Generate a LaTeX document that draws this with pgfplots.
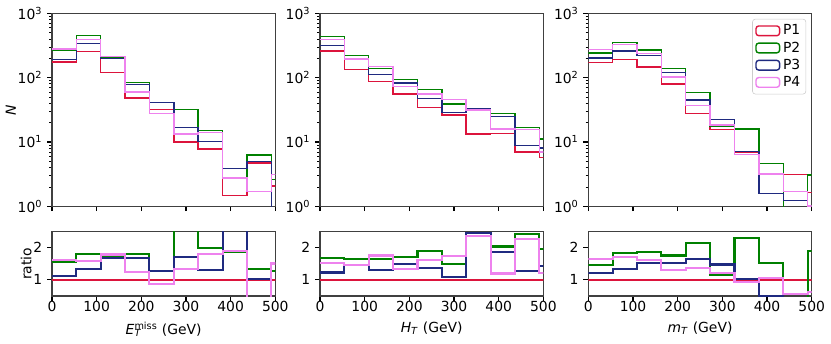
\documentclass[border=0pt]{standalone}
\usepackage{fontspec}
\setmainfont{DejaVu Sans}
\usepackage{pgfplots}
\usepackage{pgfplotstable}
\pgfplotsset{compat=1.18}

\definecolor{cP1}{HTML}{DC143C}
\definecolor{cP2}{HTML}{008000}
\definecolor{cP3}{HTML}{1F2A80}
\definecolor{cP4}{HTML}{EE82EE}

% bin edges: 600/11 GeV wide, last row repeats the last bin
\pgfplotstableread{
x       p1    p2    p3    p4
0       175   266   193   279
54.545  253   449   342   395
109.091 121   205   200   214
163.636 48    84.6  79    60
218.182 32.2  41.4  41.4  27.9
272.727 10    32.2  16.7  13.3
327.273 7.8   15.2  10.1  14.1
381.818 1.48  2.75  3.84  2.75
436.364 4.71  6.27  4.94  1.69
490.909 2.07  2.63  0.01  3.14
545.455 2.07  2.63  0.01  3.14
}\topA
\pgfplotstableread{
x       p1    p2    p3    p4
0       259   433   318   395
54.545  135   222   195   195
109.091 86.5  138   111   148
163.636 55.7  93    82.6  73.3
218.182 34.1  65    47    55.7
272.727 26.2  38.9  28.5  45.4
327.273 13.3  32.6  32.9  31.4
381.818 13.6  27.5  25.1  15.9
436.364 6.98  16.7  8.75  15.5
490.909 5.7   11.1  8.1   7.0
545.455 5.7   11.1  8.1   7.0
}\topB
\pgfplotstableread{
x       p1    p2    p3    p4
0       171   242   202   276
54.545  193   349   259   325
109.091 146   269   222   236
163.636 79.6  138   119   103
218.182 27.5  59.2  44.9  37.2
272.727 15.5  17.5  22.2  18.4
327.273 6.98  15.9  7.16  6.34
381.818 3.1   4.66  1.57  3.2
436.364 3.1   0.01  1.24  1.69
490.909 1.63  3.06  0.01  1.01
545.455 1.63  3.06  0.01  1.01
}\topC

\pgfplotstableread{
x       p1  p2    p3    p4
0       1   1.55  1.125 1.61
54.545  1   1.81  1.35  1.58
109.091 1   1.71  1.67  1.79
163.636 1   1.80  1.67  1.25
218.182 1   1.29  1.27  0.875
272.727 1   3.2   1.71  1.33
327.273 1   1.98  1.30  1.80
381.818 1   1.875 2.6   1.90
436.364 1   1.34  1.03  0.36
490.909 1   1.27  0     1.51
545.455 1   1.27  0     1.51
}\ratA
\pgfplotstableread{
x       p1  p2    p3    p4
0       1   1.69  1.23  1.53
54.545  1   1.66  1.46  1.46
109.091 1   1.64  1.30  1.76
163.636 1   1.72  1.49  1.34
218.182 1   1.90  1.36  1.63
272.727 1   1.50  1.10  1.73
327.273 1   2.45  2.45  2.38
381.818 1   2.04  1.86  1.20
436.364 1   2.44  1.27  2.26
490.909 1   1.95  1.43  1.22
545.455 1   1.95  1.43  1.22
}\ratB
\pgfplotstableread{
x       p1  p2    p3    p4
0       1   1.46  1.22  1.64
54.545  1   1.84  1.35  1.71
109.091 1   1.875 1.53  1.61
163.636 1   1.76  1.53  1.30
218.182 1   2.14  1.64  1.36
272.727 1   1.15  1.48  1.21
327.273 1   2.29  1.02  0.94
381.818 1   1.52  0.5   1.05
436.364 1   0     0.4   0.56
490.909 1   1.89  0     0.62
545.455 1   1.89  0     0.62
}\ratC

\pgfplotsset{
  every axis/.append style={
    scale only axis, width=160.8pt,
    xmin=0, xmax=500, xtick={0,100,...,500},
    tick align=outside, xtick pos=bottom, ytick pos=left,
    axis line style={line width=0.8pt, black!75},
    major tick length=3.5pt, minor tick length=2pt,
    major tick style={line width=0.8pt, black},
    minor tick style={line width=0.6pt, black},
    tick label style={font=\fontsize{10}{12}\selectfont},
    xticklabel style={yshift=3pt},
    label style={font=\fontsize{10}{12}\selectfont},
    ylabel shift=-5.5pt,
    /pgf/number format/assume math mode=true,
  },
}

\newcommand{\tophists}[1]{%
  \addplot[const plot, cP1, line width=1pt] table[x=x,y=p1] {#1};
  \addplot[const plot, cP2, line width=1pt] table[x=x,y=p2] {#1};
  \addplot[const plot, cP3, line width=1pt] table[x=x,y=p3] {#1};
  \addplot[const plot, cP4, line width=1pt] table[x=x,y=p4] {#1};
}
\newcommand{\rathists}[1]{%
  \addplot[const plot, cP1, line width=1.5pt] table[x=x,y=p1] {#1};
  \addplot[const plot, cP2, line width=1.5pt] table[x=x,y=p2] {#1};
  \addplot[const plot, cP3, line width=1.5pt] table[x=x,y=p3] {#1};
  \addplot[const plot, cP4, line width=1.5pt] table[x=x,y=p4] {#1};
}

\begin{document}
\begin{tikzpicture}
\useasboundingbox (0,0) rectangle (598.32pt,246.96pt);

% E_T^miss
\begin{semilogyaxis}[height=138.96pt, ymin=1, ymax=1000,
    ytick={1,10,100,1000},
    yticklabels={10\textsuperscript{0},10\textsuperscript{1},10\textsuperscript{2},10\textsuperscript{3}},
    minor ytick={2,3,4,5,6,7,8,9,20,30,40,50,60,70,80,90,200,300,400,500,600,700,800,900},
    xticklabels={},
    at={(37.44pt,98.4pt)}, anchor=south west, ylabel={\textit{N}}]
\tophists{\topA}
\end{semilogyaxis}
\begin{axis}[height=46.3pt, ymin=0.5, ymax=2.5, ytick={1,2},
  at={(37.44pt,33.84pt)}, anchor=south west, ylabel={ratio},
  xlabel={\textit{E}\rlap{\textsubscript{\textit{T}}}\textsuperscript{miss} (GeV)}]
\rathists{\ratA}
\end{axis}

% H_T
\begin{semilogyaxis}[height=138.96pt, ymin=1, ymax=1000,
    ytick={1,10,100,1000},
    yticklabels={10\textsuperscript{0},10\textsuperscript{1},10\textsuperscript{2},10\textsuperscript{3}},
    minor ytick={2,3,4,5,6,7,8,9,20,30,40,50,60,70,80,90,200,300,400,500,600,700,800,900},
    xticklabels={},
    at={(230.4pt,98.4pt)}, anchor=south west]
\tophists{\topB}
\end{semilogyaxis}
\begin{axis}[height=46.3pt, ymin=0.5, ymax=2.5, ytick={1,2},
  at={(230.4pt,33.84pt)}, anchor=south west,
  xlabel={\textit{H}\textsubscript{\textit{T}} (GeV)}]
\rathists{\ratB}
\end{axis}

% m_T
\begin{semilogyaxis}[height=138.96pt, ymin=1, ymax=1000,
    ytick={1,10,100,1000},
    yticklabels={10\textsuperscript{0},10\textsuperscript{1},10\textsuperscript{2},10\textsuperscript{3}},
    minor ytick={2,3,4,5,6,7,8,9,20,30,40,50,60,70,80,90,200,300,400,500,600,700,800,900},
    xticklabels={},
    at={(423.6pt,98.4pt)}, anchor=south west,
    legend style={at={(1,1)}, xshift=-4pt, yshift=-4pt, anchor=north east,
      draw=black!20, rounded corners=2pt, font=\fontsize{10}{12}\selectfont,
      row sep=-0.5pt, inner sep=2pt},
    legend cell align=left,
    legend image code/.code={\draw[#1, line width=1pt] (0pt,-3.5pt) rectangle (17pt,3.5pt);}]
\tophists{\topC}
\legend{P1,P2,P3,P4}
\end{semilogyaxis}
\begin{axis}[height=46.3pt, ymin=0.5, ymax=2.5, ytick={1,2},
  at={(423.6pt,33.84pt)}, anchor=south west,
  xlabel={\textit{m}\textsubscript{\textit{T}} (GeV)}]
\rathists{\ratC}
\end{axis}
\end{tikzpicture}
\end{document}
